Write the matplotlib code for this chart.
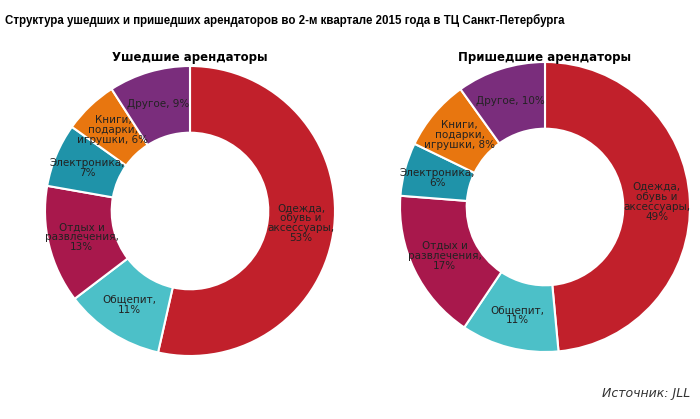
import matplotlib
matplotlib.use("Agg")
import matplotlib.pyplot as plt
import numpy as np

labels_left = ["Одежда,\nобувь и\nаксессуары,\n53%", "Общепит,\n11%", "Отдых и\nразвлечения,\n13%",
               "Электроника,\n7%", "Книги,\nподарки,\nигрушки, 6%", "Другое, 9%"]
values_left = [53, 11, 13, 7, 6, 9]
labels_right = ["Одежда,\nобувь и\nаксессуары,\n49%", "Общепит,\n11%", "Отдых и\nразвлечения,\n17%",
                "Электроника,\n6%", "Книги,\nподарки,\nигрушки, 8%", "Другое, 10%"]
values_right = [49, 11, 17, 6, 8, 10]
colors = ["#C1202B", "#4CC0C8", "#A8184C", "#1F93A9", "#E8760F", "#7A2D7C"]

W, H = 700, 419
fig = plt.figure(figsize=(W / 100, H / 100), dpi=100)
fig.patch.set_facecolor("white")


def donut(cx, cy, r, vals, labs, title):
    ax = fig.add_axes([(cx - r) / W, 1 - (cy + r) / H, 2 * r / W, 2 * r / H])
    ax.pie(vals, colors=colors, startangle=90, counterclock=False,
           radius=1.0, wedgeprops=dict(width=0.46, edgecolor="white", linewidth=1.5))
    total = sum(vals)
    ang0 = 90
    for v, lab in zip(vals, labs):
        mid = np.deg2rad(ang0 - v / total * 360 / 2)
        ang0 -= v / total * 360
        rr = 0.77
        ax.text(rr * np.cos(mid), rr * np.sin(mid), lab, ha="center", va="center",
                fontsize=7.5, color="#222222", linespacing=1.0)
    ax.set_xlim(-1, 1)
    ax.set_ylim(-1, 1)
    ax.set_aspect("equal")
    fig.text(cx / W, 1 - 58 / H, title, ha="center", va="center", fontsize=8.5, fontweight="bold")


donut(190, 211, 145, values_left, labels_left, "Ушедшие арендаторы")
donut(545, 207, 145, values_right, labels_right, "Пришедшие арендаторы")

fig.text(5 / W, 1 - 20 / H, "Структура ушедших и пришедших арендаторов во 2-м квартале 2015 года в ТЦ Санкт-Петербурга",
         ha="left", va="center", fontsize=8.3, fontweight="bold", fontfamily="Liberation Sans")
fig.text(690 / W, 1 - 393 / H, "Источник: JLL", ha="right", va="center", fontsize=9, style="italic", color="#333333")

fig.savefig("out.png", dpi=100)
